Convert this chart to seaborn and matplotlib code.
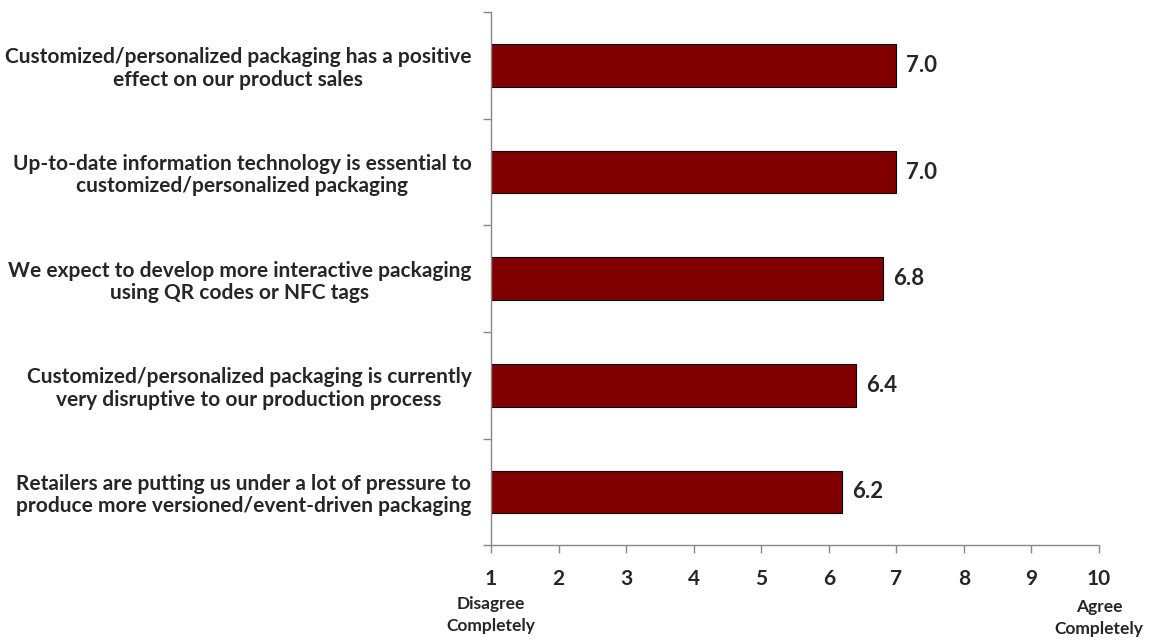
import matplotlib
matplotlib.use("Agg")
import matplotlib.pyplot as plt
import seaborn as sns
import pandas as pd
from matplotlib.ticker import FixedLocator

categories = [
    "Customized/personalized packaging has a positive\neffect on our product sales",
    "Up-to-date information technology is essential to\ncustomized/personalized packaging",
    "We expect to develop more interactive packaging\nusing QR codes or NFC tags",
    "Customized/personalized packaging is currently\nvery disruptive to our production process",
    "Retailers are putting us under a lot of pressure to\nproduce more versioned/event-driven packaging",
]
values = [7.0, 7.0, 6.8, 6.4, 6.2]
x_ticks = [1, 2, 3, 4, 5, 6, 7, 8, 9, 10]

sns.set_theme(style="white")
plt.rcParams["font.family"] = ["Lato", "DejaVu Sans"]
plt.rcParams["font.weight"] = "bold"

df = pd.DataFrame({"statement": categories, "score": values})

fig = plt.figure(figsize=(11.51, 6.4), dpi=100)
ax = fig.add_axes([0.4266, 0.148, 0.5282, 0.833])

sns.barplot(data=df, y="statement", x="score", orient="h", color="#800000",
            saturation=1, edgecolor="black", linewidth=0.8, width=0.4, ax=ax)

ax.set_xlim(1, 10)
ax.set_ylim(len(categories) - 0.5, -0.5)
ax.set_xticks(x_ticks)
ax.set_xticklabels([str(t) for t in x_ticks], fontsize=15, fontweight="bold")
ax.set_yticks(range(len(categories)))
ax.set_yticklabels(categories, fontsize=15, fontweight="bold", multialignment="center",
                   linespacing=1.15)
ax.yaxis.set_minor_locator(FixedLocator([i - 0.5 for i in range(len(categories) + 1)]))

ax.tick_params(axis="y", which="major", length=0, pad=14)
ax.tick_params(axis="y", which="minor", length=6, width=1, color="#888888", direction="out", left=True)
ax.tick_params(axis="x", which="major", length=6, width=1, color="#888888", direction="out", bottom=True, pad=11)

ax.set_xlabel("")
ax.set_ylabel("")
for s in ["top", "right"]:
    ax.spines[s].set_visible(False)
for s in ["left", "bottom"]:
    ax.spines[s].set_color("#888888")
    ax.spines[s].set_linewidth(1)

for i, v in enumerate(values):
    ax.text(v + 0.15, i, f"{v:.1f}", va="center", ha="left", fontsize=16, fontweight="bold")

fig.text(0.4266, 0.039, "Disagree\nCompletely", ha="center", va="center", fontsize=12.5,
         fontweight="bold", multialignment="center", linespacing=1.45)
fig.text(0.9548, 0.035, "Agree\nCompletely", ha="center", va="center", fontsize=12.5,
         fontweight="bold", multialignment="center", linespacing=1.45)

fig.savefig("out.png", dpi=100)
